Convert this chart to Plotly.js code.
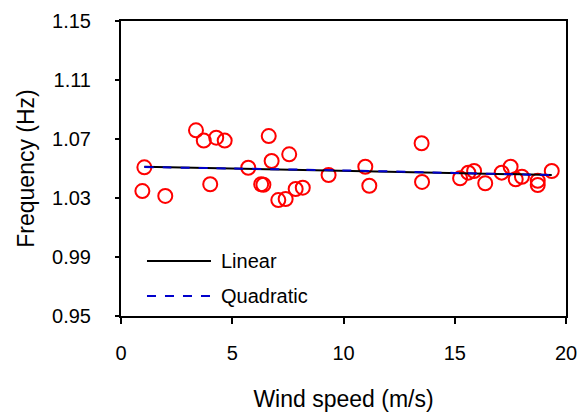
<!DOCTYPE html>
<html>
<head>
<meta charset="utf-8">
<script src="https://cdn.plot.ly/plotly-3.0.1.min.js"></script>
<style>
html,body{margin:0;padding:0;background:#fff;}
#chart{width:580px;height:414px;}
</style>
</head>
<body>
<div id="chart"></div>
<script>
// Measured data: wind speed (m/s) vs frequency (Hz)
var windSpeed = [0.96, 1.05, 1.99, 3.37, 3.72, 4.01, 4.28, 4.66, 5.72, 6.30, 6.40, 6.64, 6.77, 7.07, 7.40, 7.56, 7.85, 8.17, 9.33, 10.98, 11.16, 13.51, 13.53, 15.24, 15.61, 15.87, 16.37, 17.11, 17.51, 17.74, 18.02, 18.73, 18.73, 19.36];
var frequency = [1.0347, 1.0508, 1.0314, 1.0759, 1.0689, 1.0393, 1.0709, 1.0689, 1.0505, 1.0393, 1.0390, 1.0720, 1.0551, 1.0286, 1.0293, 1.0596, 1.0361, 1.0370, 1.0456, 1.0512, 1.0383, 1.0671, 1.0409, 1.0434, 1.0472, 1.0483, 1.0400, 1.0472, 1.0512, 1.0427, 1.0444, 1.0417, 1.0388, 1.0483];

// Fitted curves
var linearX = [1.05, 19.36];
var linearY = [1.0512, 1.0456];
var quadX = [1.05, 5, 10, 15, 19.36];
var quadY = [1.0510, 1.0500, 1.0487, 1.0470, 1.0455];

var xTicks = [0, 5, 10, 15, 20];
var yTicks = [0.95, 0.99, 1.03, 1.07, 1.11, 1.15];
var legendNames = ['Linear', 'Quadratic'];

var FONT = 'Arial, "Liberation Sans", sans-serif';

var traces = [
  {
    x: windSpeed, y: frequency, type: 'scatter', mode: 'markers', name: 'Measured',
    marker: {symbol: 'circle-open', size: 14, color: '#ff0000', line: {width: 2, color: '#ff0000'}},
    showlegend: false, cliponaxis: false
  },
  {
    x: linearX, y: linearY, type: 'scatter', mode: 'lines', name: legendNames[0],
    line: {color: '#000000', width: 2}, showlegend: false
  },
  {
    x: quadX, y: quadY, type: 'scatter', mode: 'lines', name: legendNames[1],
    line: {color: '#0000cc', width: 2, dash: 'dash', shape: 'spline'}, showlegend: false
  }
];

// manual legend (paper coords)
var legX0 = 0.0584, legX1 = 0.2022, legTextX = 0.2202;
var legY = [0.1864, 0.0678];

var layout = {
  width: 580, height: 414,
  margin: {l: 121, r: 14, t: 21, b: 98},
  paper_bgcolor: '#ffffff', plot_bgcolor: '#ffffff',
  font: {family: FONT, color: '#000000', size: 20},
  showlegend: false,
  xaxis: {
    range: [0, 20], tickvals: xTicks, ticktext: xTicks.map(String),
    showgrid: false, zeroline: false,
    showline: true, linecolor: '#000', linewidth: 2, mirror: true,
    ticks: 'outside', ticklen: 6, tickwidth: 2, tickcolor: '#000',
    tickfont: {family: FONT, size: 20, color: '#000'},
    ticklabelstandoff: 12,
    title: {text: 'Wind speed (m/s)', font: {family: FONT, size: 23, color: '#000'}, standoff: 28}
  },
  yaxis: {
    range: [0.95, 1.15], tickvals: yTicks, ticktext: yTicks.map(function(v){return v.toFixed(2);}),
    showgrid: false, zeroline: false,
    showline: true, linecolor: '#000', linewidth: 2, mirror: true,
    ticks: 'outside', ticklen: 4, tickwidth: 2, tickcolor: '#000',
    tickfont: {family: FONT, size: 20, color: '#000'},
    ticklabelstandoff: 20,
    title: {text: 'Frequency (Hz)', font: {family: FONT, size: 23, color: '#000'}, standoff: 11}
  },
  shapes: [
    {type: 'line', xref: 'paper', yref: 'paper', x0: legX0, x1: legX1, y0: legY[0], y1: legY[0], line: {color: '#000', width: 2}},
    {type: 'line', xref: 'paper', yref: 'paper', x0: legX0, x1: legX1, y0: legY[1], y1: legY[1], line: {color: '#0000cc', width: 2, dash: 'dash'}}
  ],
  annotations: [
    {xref: 'paper', yref: 'paper', x: legTextX, y: legY[0], text: legendNames[0], showarrow: false, xanchor: 'left', yanchor: 'middle', font: {family: FONT, size: 20, color: '#000'}},
    {xref: 'paper', yref: 'paper', x: legTextX, y: legY[1], text: legendNames[1], showarrow: false, xanchor: 'left', yanchor: 'middle', font: {family: FONT, size: 20, color: '#000'}}
  ]
};

Plotly.newPlot('chart', traces, layout, {staticPlot: true, displayModeBar: false});
</script>
</body>
</html>
